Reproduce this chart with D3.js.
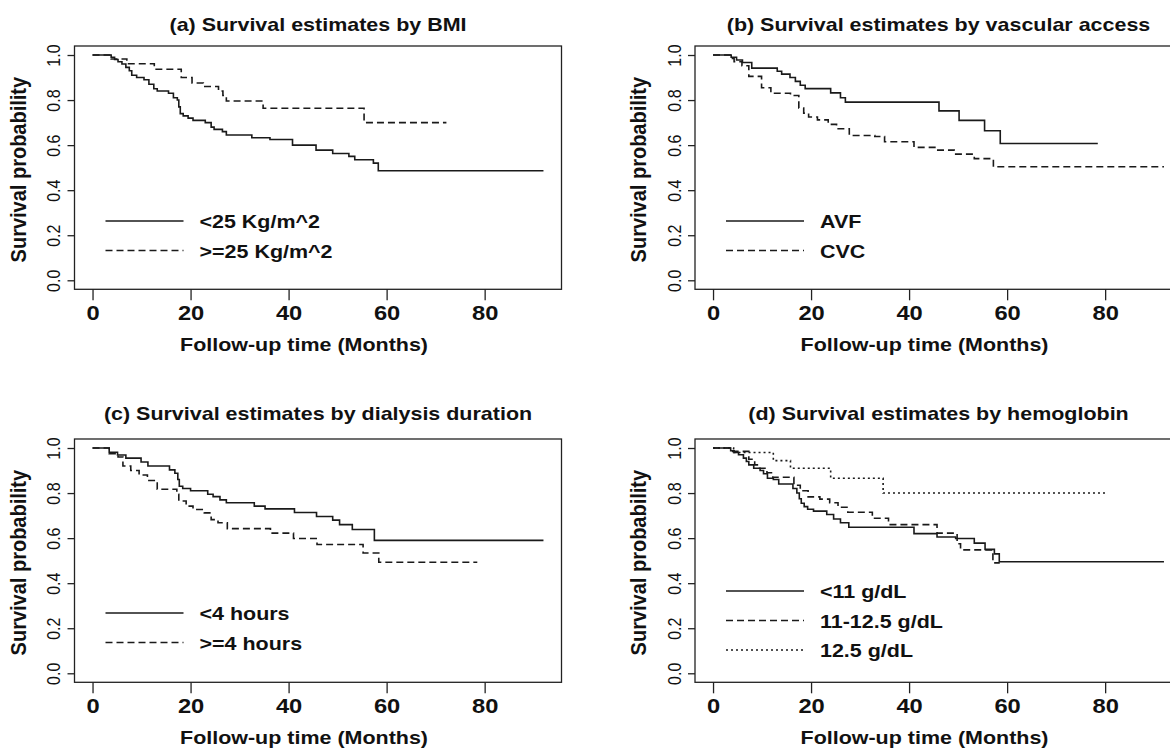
<!doctype html>
<html>
<head>
<style type="text/css">
body { margin: 0; background: #fff; }
svg text { font-family: "Liberation Sans", Arial, sans-serif; fill: #111; }
.bold { font-weight: bold; }
</style>
</head>
<body>
<svg width="1170" height="751"></svg>
<script src="https://d3js.org/d3.v7.min.js"></script>
<script>
// ---- data: [month, survival] at each step ----
var xTicks = [0, 20, 40, 60, 80];
var yTicks = [0, 0.2, 0.4, 0.6, 0.8, 1.0];

var titles = ["(a) Survival estimates by BMI",
              "(b) Survival estimates by vascular access",
              "(c) Survival estimates by dialysis duration",
              "(d) Survival estimates by hemoglobin"];

var bmiLabels = ["<25 Kg/m^2", ">=25 Kg/m^2"];
var accessLabels = ["AVF", "CVC"];
var durationLabels = ["<4 hours", ">=4 hours"];
var hbLabels = ["<11 g/dL", "11-12.5 g/dL", "12.5 g/dL"];

var bmiUnder25 = [[0,1],[3.8,0.99],[4.5,0.98],[5.2,0.97],[6,0.96],[6.8,0.945],[7.5,0.93],[8,0.91],
  [9,0.90],[10.5,0.89],[11.5,0.87],[12.5,0.85],[13.2,0.84],[15.5,0.83],[16.5,0.81],[17.3,0.80],
  [17.6,0.77],[17.9,0.74],[18.5,0.73],[19.5,0.72],[20.5,0.71],[23,0.70],[24.2,0.68],[24.8,0.67],
  [26.5,0.66],[27.3,0.645],[32.5,0.633],[36.2,0.625],[40.8,0.60],[45.6,0.578],[49,0.563],
  [52.3,0.55],[53.5,0.535],[57.3,0.52],[58.3,0.486]];
var bmiOver25 = [[0,1],[3.8,0.982],[7,0.961],[12.6,0.937],[18.1,0.90],[20.3,0.876],[22.6,0.86],
  [25.7,0.84],[26.6,0.82],[27.3,0.796],[34.8,0.764],[55.4,0.70]];
var bmiEnds = [92, 72.2];

var avf = [[0,1],[3.7,0.99],[4.8,0.978],[6,0.967],[7.9,0.942],[13.1,0.928],[14,0.915],[15.7,0.90],
  [16.8,0.883],[17.8,0.866],[18.8,0.851],[24,0.832],[26,0.81],[27,0.791],[46.1,0.752],[50.2,0.71],
  [55.4,0.664],[58.6,0.607]];
var cvc = [[0,1],[3.5,0.985],[4.3,0.97],[5.9,0.952],[7.3,0.905],[9.9,0.855],[11.8,0.83],[15.8,0.82],
  [17.5,0.765],[18.5,0.742],[19.5,0.725],[21.3,0.712],[23.5,0.692],[25.2,0.673],[27.8,0.643],
  [33,0.638],[35,0.615],[41,0.59],[45.5,0.578],[49.2,0.56],[53.3,0.54],[57.2,0.504]];
var accessEnds = [78.5, 92];

var under4h = [[0,1],[3.4,0.981],[5.1,0.969],[6.8,0.955],[9.9,0.938],[11.3,0.92],[15.7,0.903],
  [16.8,0.888],[17.4,0.86],[17.7,0.83],[18.4,0.82],[20,0.81],[23.5,0.795],[24.6,0.784],[26,0.77],
  [27.3,0.757],[33,0.742],[35.2,0.73],[41.2,0.714],[45.7,0.696],[49,0.68],[50.4,0.66],[53,0.638],
  [57.5,0.59]];
var over4h = [[0,1],[3.4,0.975],[5.2,0.96],[6.2,0.92],[7.8,0.90],[9.5,0.88],[11.2,0.856],[13.2,0.817],
  [17.2,0.795],[17.6,0.765],[19.1,0.742],[20.5,0.727],[22.8,0.712],[24.2,0.682],[25.6,0.668],
  [27.5,0.642],[36.3,0.622],[41,0.598],[45.8,0.572],[55.2,0.534],[58.4,0.493]];
var durationEnds = [92, 78.5];

var hbLow = [[0,1],[3.6,0.988],[4.3,0.98],[5.2,0.97],[6.2,0.955],[6.8,0.94],[7.3,0.925],[8.3,0.91],
  [9.6,0.90],[10.3,0.886],[11.1,0.866],[12.3,0.86],[13.4,0.84],[16.3,0.82],[17.1,0.80],[17.6,0.775],
  [18,0.755],[18.6,0.74],[19.3,0.728],[20.5,0.72],[23.2,0.705],[24.6,0.685],[26,0.668],[27.7,0.648],
  [41,0.62],[45.7,0.605],[49.5,0.598],[53.3,0.578],[55.5,0.55],[57.4,0.53],[58.4,0.495]];
var hbMid = [[0,1],[4,0.985],[7.3,0.95],[8.5,0.925],[9.5,0.91],[11,0.89],[12.2,0.87],[16.5,0.835],
  [17.8,0.81],[19.4,0.783],[21.8,0.773],[23.8,0.757],[25.5,0.737],[27.5,0.715],[32.5,0.688],
  [35.8,0.66],[45.7,0.622],[49.8,0.575],[50.5,0.548],[57.1,0.49]];
var hbHigh = [[0,1],[4.2,0.98],[12.3,0.944],[15.8,0.91],[24,0.866],[34.7,0.80]];
var hbEnds = [92, 58.5, 80.5];

// ---- layout ----
var SX = 1.13;               // the source figure is stretched sideways
var boxW = 487, boxH = 243.3;
var dashes = [null, "7,4", "2,3"];

var panels = [
  {title: titles[0], left: 74.5, top: 46, titleDy: -15, labels: bmiLabels,
   curves: [bmiUnder25, bmiOver25], ends: bmiEnds, legendTop: 175},
  {title: titles[1], left: 695, top: 46, titleDy: -15, labels: accessLabels,
   curves: [avf, cvc], ends: accessEnds, legendTop: 175},
  {title: titles[2], left: 74.5, top: 439, titleDy: -19, labels: durationLabels,
   curves: [under4h, over4h], ends: durationEnds, legendTop: 174},
  {title: titles[3], left: 695, top: 439, titleDy: -19, labels: hbLabels,
   curves: [hbLow, hbMid, hbHigh], ends: hbEnds, legendTop: 152}
];

var x = d3.scaleLinear().domain([-3.68, 95.68]).range([0, boxW]);
var y = d3.scaleLinear().domain([-0.04, 1.04]).range([boxH, 0]);

var svg = d3.select("svg");

var line = d3.line()
  .x(function(d) { return x(d[0]); })
  .y(function(d) { return y(d[1]); })
  .curve(d3.curveStepAfter);

function stretched(sel, tx, ty, rot) {
  sel.attr("x", 0).attr("y", 0)
     .attr("transform", "translate(" + tx + "," + ty + ") scale(" + SX + ",1)" + (rot ? " rotate(" + rot + ")" : ""));
}

panels.forEach(function(p) {
  var g = svg.append("g").attr("transform", "translate(" + p.left + "," + p.top + ")");

  g.append("text").attr("class", "bold")
    .style("font-size", "19px").attr("text-anchor", "middle")
    .text(p.title)
    .call(stretched, boxW / 2, p.titleDy);

  g.append("rect")
    .attr("width", boxW).attr("height", boxH)
    .attr("fill", "none").attr("stroke", "#222").attr("stroke-width", 1.3);

  var xa = g.append("g").attr("transform", "translate(0," + boxH + ")")
    .call(d3.axisBottom(x).tickValues(xTicks).tickSize(11).tickFormat(d3.format("d")));
  xa.select(".domain").remove();
  xa.selectAll("line").attr("stroke", "#222").attr("stroke-width", 1.3);
  xa.selectAll("text").attr("class", "bold").attr("dy", null)
    .style("font-size", "21px").attr("fill", "#111").attr("font-family", null)
    .each(function() { d3.select(this).call(stretched, 0, 31); });

  var ya = g.append("g")
    .call(d3.axisLeft(y).tickValues(yTicks).tickSize(7).tickFormat(d3.format(".1f")));
  ya.select(".domain").remove();
  ya.selectAll("line").attr("stroke", "#222").attr("stroke-width", 1.3);
  ya.selectAll("text").attr("dy", null).attr("text-anchor", "middle")
    .style("font-size", "16px").attr("fill", "#111").attr("font-family", null)
    .each(function() { d3.select(this).call(stretched, -14.5, 0, -90); });

  g.append("text").attr("class", "bold")
    .style("font-size", "19px").attr("text-anchor", "middle")
    .text("Follow-up time (Months)")
    .call(stretched, boxW / 2 - 14, boxH + 62);

  g.append("text").attr("class", "bold")
    .style("font-size", "20px").attr("text-anchor", "middle")
    .text("Survival probability")
    .call(stretched, -49, boxH / 2 + 2, -90);

  p.curves.forEach(function(c, i) {
    var pts = c.concat([[p.ends[i], c[c.length - 1][1]]]);
    g.append("path")
      .attr("d", line(pts))
      .attr("fill", "none").attr("stroke", "#1a1a1a").attr("stroke-width", 1.6)
      .attr("stroke-dasharray", dashes[i]);
  });

  p.labels.forEach(function(lab, i) {
    var ly = p.legendTop + i * 29.5;
    g.append("line")
      .attr("x1", 31).attr("x2", 109).attr("y1", ly).attr("y2", ly)
      .attr("stroke", "#1a1a1a").attr("stroke-width", 1.6)
      .attr("stroke-dasharray", dashes[i]);
    g.append("text").attr("class", "bold")
      .style("font-size", "19px")
      .text(lab)
      .call(stretched, 125, ly + 7);
  });
});
</script>
</body>
</html>
